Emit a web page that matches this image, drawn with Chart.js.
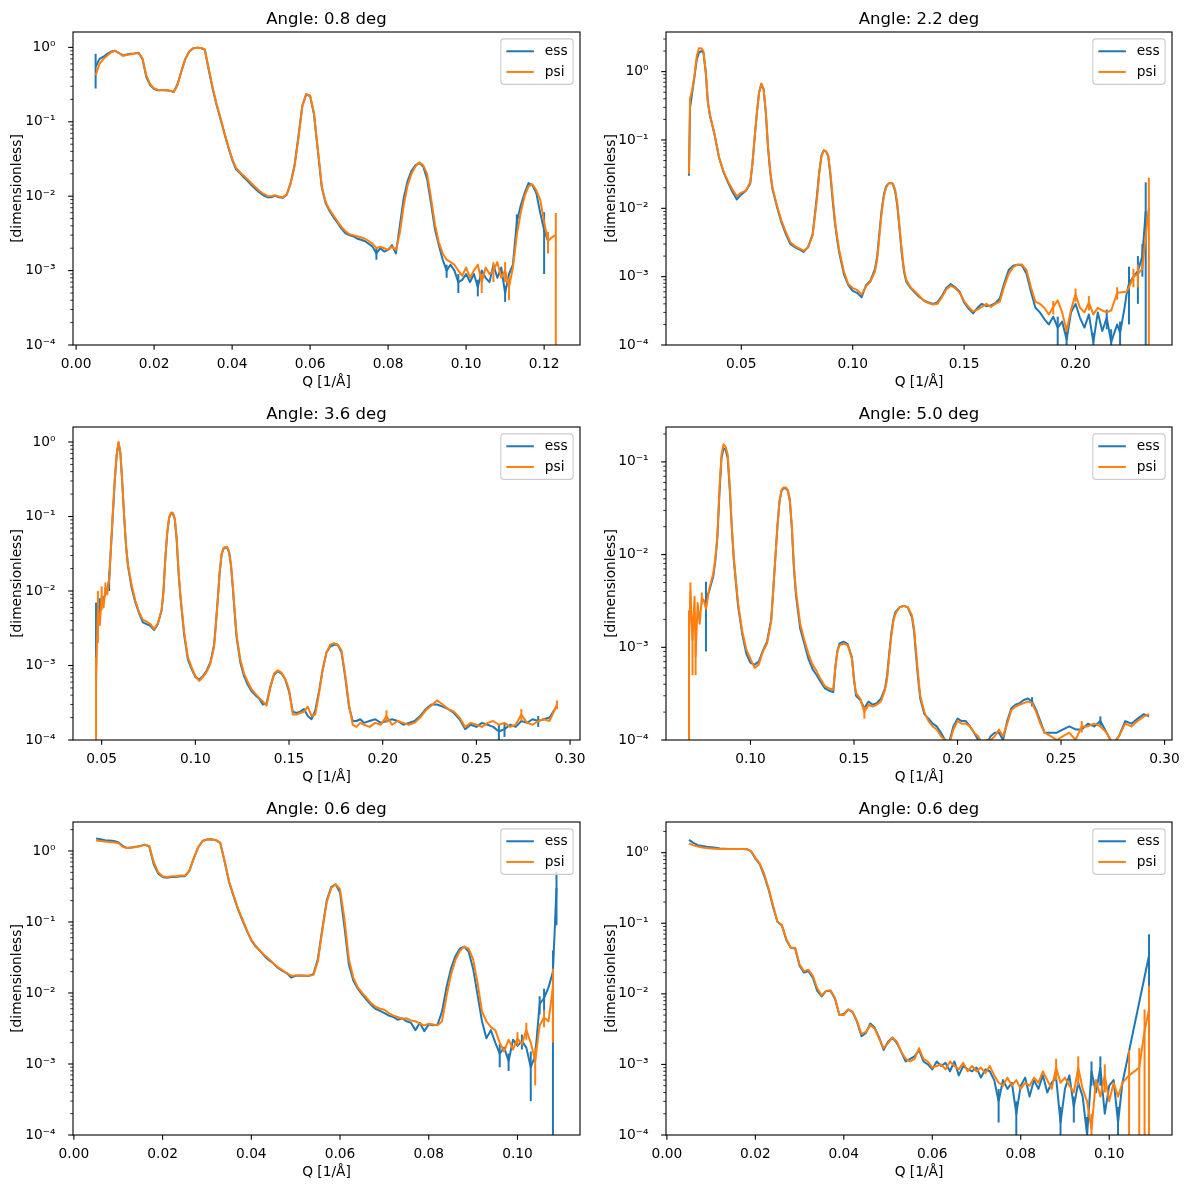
<!DOCTYPE html>
<html>
<head>
<meta charset="utf-8">
<script src="https://cdn.jsdelivr.net/npm/chart.js@4.4.1/dist/chart.umd.min.js"></script>
<style>
  html, body { margin: 0; padding: 0; background: #fff; }
  #fig { position: relative; width: 1188px; height: 1189px; background: #fff; }
  #fig canvas { position: absolute; }
</style>
</head>
<body>
<div id="fig"></div>
<script>
// ---- series names and tick labels ----
const seriesNames = ['ess', 'psi'];
const titles = ['Angle: 0.8 deg', 'Angle: 2.2 deg', 'Angle: 3.6 deg', 'Angle: 5.0 deg', 'Angle: 0.6 deg', 'Angle: 0.6 deg'];
const yDecadeLabels = ['10\u207B\u2074', '10\u207B\u00B3', '10\u207B\u00B2', '10\u207B\u00B9', '10\u2070'];
const p1XTicks = [0.00, 0.02, 0.04, 0.06, 0.08, 0.10, 0.12];
const p2XTicks = [0.05, 0.10, 0.15, 0.20];
const p3XTicks = [0.05, 0.10, 0.15, 0.20, 0.25, 0.30];
const p4XTicks = [0.10, 0.15, 0.20, 0.25, 0.30];
const p5XTicks = [0.00, 0.02, 0.04, 0.06, 0.08, 0.10];
const p6XTicks = [0.00, 0.02, 0.04, 0.06, 0.08, 0.10];

// ---- panel 1: angle 0.8 deg ----
const p1Q = [
  0.005,0.006,0.007,0.008,0.009,0.010,0.011,0.012,0.013,0.014,
  0.015,0.016,0.017,0.018,0.019,0.020,0.021,0.022,0.023,0.024,
  0.025,0.026,0.027,0.028,0.029,0.030,0.031,0.032,0.033,0.034,
  0.035,0.036,0.037,0.038,0.039,0.040,0.041,0.042,0.043,0.044,
  0.045,0.046,0.047,0.048,0.049,0.050,0.051,0.052,0.053,0.054,
  0.055,0.056,0.057,0.058,0.059,0.060,0.061,0.062,0.063,0.064,
  0.065,0.066,0.067,0.068,0.069,0.070,0.071,0.072,0.073,0.074,
  0.075,0.076,0.077,0.078,0.079,0.080,0.081,0.082,0.083,0.084,
  0.085,0.086,0.087,0.088,0.089,0.090,0.091,0.092,0.093,0.094,
  0.095,0.096,0.097,0.098,0.099,0.100,0.101,0.102,0.103,0.104,
  0.105,0.106,0.107,0.108,0.109,0.110,0.111,0.112,0.113,0.114,
  0.115,0.116,0.117,0.118,0.119,0.120,0.121,0.122,0.123];
const p1Ess = [
  0.55,0.70,0.75,0.82,0.88,0.90,0.84,0.78,0.80,0.82,
  0.83,0.85,0.70,0.40,0.31,0.275,0.265,0.265,0.265,0.262,
  0.252,0.32,0.48,0.70,0.88,0.97,0.99,0.98,0.93,0.50,
  0.28,0.17,0.11,0.070,0.046,0.031,0.023,0.0205,0.0180,0.0160,
  0.0140,0.0125,0.0112,0.0103,0.0097,0.0097,0.0101,0.0097,0.0095,0.0105,
  0.0150,0.026,0.064,0.165,0.235,0.22,0.125,0.040,0.0130,0.0080,
  0.0063,0.0052,0.0044,0.0037,0.0032,0.0030,0.0029,0.0027,0.0026,0.0025,
  0.0023,0.0021,0.0017,0.0020,0.0018,0.0019,0.0022,0.0017,0.0040,0.0095,
  0.0160,0.022,0.026,0.028,0.025,0.017,0.0080,0.0036,0.0022,0.0014,
  0.0010,0.0012,0.0010,0.0007,0.00075,0.0009,0.0007,0.0009,0.0006,0.0010,
  0.0008,0.0007,0.0012,0.0008,0.0011,0.0005,0.0009,0.0012,0.0045,0.0075,
  0.0110,0.0150,0.0140,0.0110,0.0060,0.0035,0.0025,null,null];
const p1Psi = [
  0.42,0.60,0.70,0.78,0.86,0.90,0.84,0.77,0.79,0.81,
  0.83,0.84,0.72,0.42,0.32,0.28,0.27,0.268,0.265,0.262,
  0.250,0.31,0.48,0.70,0.88,0.97,0.99,0.98,0.94,0.52,
  0.29,0.175,0.115,0.072,0.047,0.032,0.024,0.021,0.0188,0.0168,
  0.0148,0.0132,0.0118,0.0108,0.0101,0.0100,0.0103,0.0099,0.0097,0.0106,
  0.0148,0.025,0.060,0.16,0.235,0.225,0.130,0.042,0.0135,0.0083,
  0.0066,0.0055,0.0046,0.0039,0.0034,0.0031,0.0030,0.0029,0.0028,0.0027,
  0.0025,0.0023,0.0020,0.0021,0.0020,0.0019,0.0021,0.0019,0.0032,0.0075,
  0.0140,0.020,0.025,0.0285,0.026,0.020,0.0095,0.0042,0.0024,0.0017,
  0.0014,0.0013,0.0012,0.0010,0.00085,0.0011,0.0008,0.0010,0.0012,0.0007,
  0.0011,0.0009,0.0010,0.0013,0.0008,0.0010,0.0006,0.0011,0.0030,0.0060,
  0.0100,0.0135,0.0145,0.0120,0.0090,0.0045,0.0025,0.0028,0.0030];
const p1EssErr = [[0.005,0.27],[0.077,0.0003],[0.095,0.0002],[0.098,0.0002],[0.103,0.00015],[0.110,0.00012],[0.113,0.0012],[0.120,0.0026]];
const p1PsiErr = [[0.104,0.0002],[0.107,0.0003],[0.110,0.0003],[0.111,0.0002],[0.121,0.0008],[0.123,0.00295]];

// ---- panel 2: angle 2.2 deg ----
const p2Q = [
  0.0265,0.027,0.028,0.029,0.030,0.031,0.032,0.033,0.034,0.035,
  0.036,0.038,0.040,0.042,0.044,0.046,0.048,0.050,0.052,0.054,
  0.055,0.056,0.057,0.058,0.059,0.060,0.061,0.062,0.063,0.064,
  0.066,0.068,0.070,0.072,0.074,0.076,0.078,0.080,0.082,0.083,
  0.084,0.085,0.086,0.087,0.088,0.089,0.090,0.091,0.092,0.093,
  0.094,0.096,0.098,0.100,0.102,0.104,0.106,0.108,0.110,0.111,
  0.112,0.113,0.114,0.115,0.116,0.117,0.118,0.119,0.120,0.121,
  0.122,0.123,0.124,0.126,0.128,0.130,0.132,0.134,0.136,0.138,
  0.140,0.142,0.144,0.146,0.148,0.150,0.152,0.154,0.156,0.158,
  0.160,0.162,0.164,0.166,0.168,0.170,0.172,0.174,0.176,0.178,
  0.180,0.182,0.184,0.186,0.188,0.190,0.192,0.194,0.196,0.198,
  0.200,0.202,0.204,0.206,0.208,0.210,0.212,0.214,0.216,0.2187,
  0.220,0.222,0.2229,0.224,0.226,0.228,0.230,0.2315,0.2329];
const p2Ess = [
  0.030,0.30,0.50,0.85,1.5,1.9,2.0,1.9,1.0,0.35,
  0.22,0.12,0.055,0.034,0.024,0.0175,0.0135,0.016,0.018,0.023,
  0.045,0.11,0.25,0.50,0.66,0.55,0.25,0.075,0.033,0.019,
  0.0105,0.0062,0.0042,0.0030,0.0027,0.0025,0.0023,0.0027,0.0042,0.0080,
  0.016,0.035,0.060,0.070,0.068,0.058,0.030,0.013,0.0062,0.0035,
  0.0022,0.0011,0.00075,0.00062,0.00058,0.00050,0.00075,0.00088,0.0013,0.0020,
  0.0045,0.0095,0.016,0.021,0.023,0.0235,0.023,0.018,0.011,0.0050,
  0.0022,0.0012,0.00085,0.00068,0.00058,0.00050,0.00045,0.00042,0.00040,0.00042,
  0.00052,0.00068,0.00078,0.00070,0.00060,0.00042,0.00034,0.00029,0.00035,0.00040,
  0.00037,0.00038,0.00041,0.00048,0.00080,0.00125,0.00145,0.00150,0.00145,0.0011,
  0.00060,0.00035,0.00030,0.00024,0.00020,0.00026,0.00018,0.00022,0.00012,0.00030,
  0.00040,0.00025,0.00018,0.00028,0.00011,0.00030,0.00016,0.00025,0.00011,0.00020,
  0.00015,0.00035,0.00055,0.0008,0.0010,0.0012,0.0020,0.0090,null];
const p2Psi = [
  0.032,0.40,0.55,0.90,1.7,2.2,2.2,2.0,1.05,0.36,
  0.23,0.12,0.056,0.035,0.025,0.019,0.015,0.017,0.018,0.024,
  0.045,0.11,0.25,0.50,0.67,0.56,0.26,0.08,0.035,0.020,
  0.011,0.0066,0.0045,0.0032,0.0028,0.0026,0.0024,0.0027,0.0040,0.0075,
  0.014,0.033,0.058,0.070,0.069,0.060,0.033,0.015,0.0068,0.0038,
  0.0024,0.0012,0.00078,0.00068,0.00064,0.00055,0.00072,0.00085,0.0012,0.0018,
  0.0040,0.0088,0.015,0.020,0.023,0.0235,0.023,0.019,0.012,0.0055,
  0.0025,0.0013,0.00090,0.00070,0.00060,0.00052,0.00044,0.00041,0.00039,0.00040,
  0.00050,0.00065,0.00074,0.00068,0.00058,0.00044,0.00036,0.00031,0.00033,0.00036,
  0.00040,0.00036,0.00040,0.00043,0.00072,0.0011,0.00138,0.00150,0.00150,0.00125,
  0.00070,0.00043,0.00040,0.00035,0.00028,0.00036,0.00045,0.00030,0.00016,0.00033,
  0.00055,0.00035,0.00030,0.00042,0.00028,0.00035,0.00032,0.00030,0.00032,0.00058,
  null,null,0.00060,0.00070,0.0010,0.0011,0.0013,0.0040,0.0100];
const p2EssErr = [[0.192,0.00008],[0.196,0.00005],[0.208,0.00004],[0.214,0.00008],[0.216,0.00006],[0.220,0.00007],[0.224,0.0006],[0.228,0.0008],[0.230,0.0010],[0.2315,0.015]];
const p2PsiErr = [[0.190,0.00008],[0.200,0.00012],[0.206,0.0001],[0.2187,0.00012],[0.226,0.0003],[0.228,0.0004],[0.2329,0.018]];

// ---- panel 3: angle 3.6 deg ----
const p3Q = [
  0.047,0.048,0.049,0.050,0.051,0.052,0.053,0.054,0.055,0.056,
  0.057,0.058,0.059,0.060,0.061,0.062,0.063,0.064,0.066,0.068,
  0.070,0.072,0.074,0.076,0.078,0.080,0.082,0.083,0.084,0.085,
  0.086,0.087,0.088,0.089,0.090,0.091,0.092,0.094,0.096,0.098,
  0.100,0.102,0.104,0.106,0.108,0.110,0.111,0.112,0.113,0.114,
  0.115,0.116,0.117,0.118,0.119,0.120,0.121,0.122,0.124,0.126,
  0.128,0.130,0.132,0.134,0.136,0.138,0.140,0.142,0.144,0.146,
  0.148,0.150,0.152,0.154,0.156,0.158,0.160,0.162,0.164,0.166,
  0.168,0.170,0.172,0.174,0.176,0.178,0.180,0.182,0.184,0.186,
  0.188,0.190,0.193,0.196,0.199,0.202,0.205,0.208,0.211,0.214,
  0.217,0.220,0.223,0.226,0.229,0.232,0.235,0.238,0.241,0.244,
  0.247,0.250,0.253,0.256,0.259,0.262,0.265,0.268,0.271,0.274,
  0.277,0.280,0.283,0.286,0.289,0.291,0.293];
const p3Ess = [
  0.004,0.005,0.006,0.007,0.008,0.009,0.011,0.014,0.040,0.11,
  0.30,0.65,0.98,0.70,0.28,0.10,0.040,0.022,0.011,0.0070,
  0.0050,0.0038,0.0036,0.0034,0.0030,0.0036,0.0055,0.010,0.028,0.060,
  0.095,0.110,0.110,0.092,0.050,0.018,0.0085,0.0026,0.0012,0.00090,
  0.00070,0.00065,0.00072,0.00085,0.00110,0.0019,0.0038,0.0080,0.018,0.031,
  0.037,0.038,0.038,0.033,0.022,0.011,0.0050,0.0024,0.0011,0.00072,
  0.00055,0.00045,0.00040,0.00036,0.00030,0.00031,0.00052,0.00075,0.00084,0.00078,
  0.00065,0.00045,0.00024,0.00023,0.00024,0.00026,0.00021,0.00019,0.00025,0.00045,
  0.00090,0.0015,0.0018,0.0019,0.0019,0.0015,0.00070,0.00028,0.00018,0.00018,
  0.00019,0.00017,0.00018,0.00019,0.00017,0.00018,0.00019,0.00018,0.00016,0.00017,
  0.00018,0.00021,0.00026,0.00030,0.00030,0.00028,0.00026,0.00023,0.00019,0.00014,
  0.00016,0.00015,0.00017,0.00016,0.00015,0.00013,0.00014,0.00016,0.00015,0.00018,
  0.00017,0.00019,0.00018,0.00019,0.00020,0.00024,0.00028];
const p3Psi = [
  0.0006,0.0060,0.0035,0.0085,0.0060,0.0110,0.0090,0.0150,0.040,0.12,
  0.32,0.68,1.0,0.72,0.29,0.10,0.041,0.023,0.012,0.0074,
  0.0052,0.0041,0.0039,0.0036,0.0031,0.0037,0.0056,0.010,0.028,0.062,
  0.098,0.113,0.112,0.095,0.053,0.019,0.0090,0.0028,0.0013,0.00095,
  0.00072,0.00062,0.00070,0.00082,0.00105,0.0018,0.0036,0.0078,0.018,0.031,
  0.038,0.039,0.039,0.034,0.023,0.012,0.0053,0.0026,0.0012,0.00078,
  0.00060,0.00048,0.00042,0.00037,0.00033,0.00029,0.00050,0.00078,0.00086,0.00080,
  0.00066,0.00048,0.00022,0.00022,0.00023,0.00024,0.00028,0.00021,0.00022,0.00042,
  0.00088,0.0015,0.0019,0.0020,0.0019,0.0016,0.00075,0.00030,0.00016,0.00015,
  0.00017,0.00016,0.00015,0.00017,0.00016,0.00021,0.00016,0.00018,0.00017,0.00016,
  0.00017,0.00020,0.00025,0.00029,0.00034,0.00030,0.00026,0.00024,0.00020,0.00015,
  0.00017,0.00016,0.00015,0.00017,0.00018,0.00016,0.00017,0.00015,0.00016,0.00022,
  0.00017,0.00016,0.00018,0.00019,0.00018,0.00023,0.00030];
const p3EssErr = [[0.047,0.003],[0.049,0.002],[0.054,0.004],[0.262,0.00003],[0.265,0.00003],[0.283,0.00003]];
const p3PsiErr = [[0.047,0.0007],[0.048,0.004],[0.050,0.003],[0.052,0.002],[0.202,0.00004],[0.274,0.00004],[0.293,0.00004]];

// ---- panel 4: angle 5.0 deg ----
const p4Q = [
  0.0703,0.071,0.072,0.073,0.0735,0.0745,0.0755,0.0765,0.0775,0.0785,
  0.079,0.080,0.082,0.083,0.084,0.085,0.086,0.087,0.088,0.089,
  0.090,0.091,0.092,0.094,0.096,0.098,0.100,0.102,0.104,0.106,
  0.108,0.110,0.111,0.112,0.113,0.114,0.115,0.116,0.117,0.118,
  0.119,0.120,0.121,0.122,0.124,0.126,0.128,0.130,0.132,0.134,
  0.136,0.138,0.140,0.141,0.142,0.143,0.145,0.147,0.149,0.150,
  0.151,0.153,0.155,0.157,0.159,0.161,0.163,0.165,0.166,0.167,
  0.168,0.169,0.170,0.172,0.174,0.176,0.178,0.179,0.180,0.181,
  0.182,0.184,0.186,0.188,0.190,0.192,0.194,0.196,0.198,0.200,
  0.202,0.204,0.206,0.208,0.210,0.212,0.214,0.216,0.218,0.220,
  0.222,0.224,0.226,0.228,0.230,0.232,0.234,0.236,0.238,0.240,
  0.242,0.245,0.248,0.251,0.254,0.257,0.260,0.263,0.266,0.269,
  0.272,0.275,0.278,0.281,0.284,0.287,0.290,0.2925];
const p4Ess = [
  null,null,null,null,null,null,null,null,null,0.0030,
  0.0035,0.0040,0.0058,0.0085,0.015,0.045,0.11,0.14,0.135,0.11,
  0.050,0.019,0.0085,0.0028,0.0014,0.00085,0.00068,0.00065,0.00070,0.00092,
  0.00115,0.0020,0.0042,0.0092,0.020,0.037,0.049,0.052,0.052,0.049,
  0.038,0.019,0.0070,0.0036,0.0016,0.0011,0.00075,0.00058,0.00050,0.00042,
  0.00036,0.00034,0.00033,0.00062,0.00092,0.00110,0.00115,0.00108,0.00078,0.00045,
  0.00030,0.00027,0.00022,0.00026,0.00024,0.00025,0.00028,0.00036,0.00050,0.00085,
  0.0014,0.0020,0.0024,0.0027,0.0028,0.0027,0.0021,0.0015,0.0008,0.00045,
  0.00028,0.00019,0.00017,0.00015,0.00014,0.00012,0.00010,0.000095,0.00014,0.00017,
  0.00016,0.00016,0.00014,0.00012,0.00010,0.00009,0.00009,0.00011,0.00012,0.00012,
  0.00010,0.00016,0.00022,0.00024,0.00025,0.00027,0.00028,0.00026,0.00021,0.00016,
  0.00012,0.00012,0.00012,0.00013,0.00014,0.00013,0.00013,0.00015,0.00014,0.00016,
  0.00012,0.00009,0.00011,0.00016,0.00015,0.00017,0.00019,0.00018];
const p4Psi = [
  0.0012,0.0040,0.0012,0.0035,0.0008,0.0030,0.0018,0.0034,0.0032,0.0026,
  0.0030,0.0042,0.0062,0.0090,0.016,0.050,0.12,0.155,0.145,0.12,
  0.055,0.020,0.0090,0.0030,0.0015,0.00095,0.00075,0.00060,0.00065,0.00090,
  0.0011,0.0019,0.0040,0.0090,0.020,0.038,0.050,0.053,0.053,0.050,
  0.040,0.020,0.0075,0.0040,0.0018,0.0012,0.00085,0.00065,0.00055,0.00045,
  0.00038,0.00036,0.00035,0.00060,0.00090,0.00105,0.00110,0.00105,0.00075,0.00045,
  0.00032,0.00028,0.00020,0.00024,0.00023,0.00024,0.00026,0.00035,0.00045,0.00080,
  0.0013,0.0019,0.0023,0.0027,0.0028,0.0027,0.0022,0.0016,0.0009,0.00050,
  0.00030,0.00020,0.00016,0.00014,0.00013,0.00011,0.00010,0.00009,0.00013,0.00016,
  0.00015,0.00015,0.00014,0.00012,0.00011,0.00009,0.00010,0.00010,0.00011,0.00013,
  0.00011,0.00015,0.00021,0.00023,0.00024,0.00025,0.00026,0.00025,0.00020,0.00015,
  0.00012,0.00011,0.00010,0.00011,0.00012,0.00010,0.00014,0.00014,0.00015,0.00014,
  0.00012,0.00009,0.00011,0.00015,0.00014,0.00016,0.00018,0.00019];
const p4EssErr = [[0.0785,0.0021],[0.236,0.00003],[0.269,0.00002]];
const p4PsiErr = [[0.0703,0.0013],[0.071,0.001],[0.072,0.0007],[0.0735,0.0003],[0.0765,0.0005],[0.155,0.00003],[0.260,0.00002]];

// ---- panel 5: angle 0.6 deg ----
const p5Q = [
  0.005,0.006,0.007,0.008,0.009,0.010,0.011,0.012,0.013,0.014,
  0.015,0.016,0.017,0.018,0.019,0.020,0.021,0.022,0.023,0.024,
  0.025,0.026,0.027,0.028,0.029,0.030,0.031,0.032,0.033,0.034,
  0.035,0.036,0.037,0.038,0.039,0.040,0.041,0.042,0.043,0.044,
  0.045,0.046,0.047,0.048,0.049,0.050,0.051,0.052,0.053,0.054,
  0.055,0.056,0.057,0.058,0.059,0.060,0.061,0.062,0.063,0.064,
  0.065,0.066,0.067,0.068,0.069,0.070,0.071,0.072,0.073,0.074,
  0.075,0.076,0.077,0.078,0.079,0.080,0.081,0.082,0.083,0.084,
  0.085,0.086,0.087,0.088,0.089,0.090,0.091,0.092,0.093,0.094,
  0.095,0.096,0.097,0.098,0.099,0.100,0.101,0.102,0.103,0.104,
  0.105,0.106,0.107,0.108,0.1088];
const p5Ess = [
  1.50,1.46,1.42,1.40,1.38,1.33,1.18,1.10,1.12,1.15,
  1.18,1.23,1.15,0.65,0.48,0.43,0.42,0.43,0.43,0.44,
  0.44,0.52,0.78,1.12,1.38,1.45,1.46,1.42,1.30,0.70,
  0.36,0.23,0.15,0.105,0.075,0.055,0.045,0.039,0.033,0.029,
  0.026,0.0225,0.0205,0.0190,0.0165,0.0175,0.0176,0.0175,0.0174,0.0185,
  0.030,0.080,0.20,0.31,0.34,0.26,0.085,0.025,0.0150,0.0115,
  0.0095,0.0080,0.0068,0.0060,0.0056,0.0052,0.0048,0.0046,0.0042,0.0044,
  0.0040,0.0038,0.0030,0.0038,0.0029,0.0036,0.0035,0.0036,0.0055,0.012,
  0.022,0.033,0.042,0.045,0.038,0.022,0.0095,0.0040,0.0023,0.0030,
  0.0020,0.0014,0.0017,0.0011,0.0022,0.0018,0.0021,0.0017,0.0009,0.0013,
  0.0070,0.0085,0.012,0.020,0.30];
const p5Psi = [
  1.40,1.38,1.36,1.34,1.32,1.30,1.15,1.10,1.12,1.14,
  1.17,1.22,1.18,0.70,0.50,0.44,0.43,0.44,0.44,0.45,
  0.45,0.52,0.78,1.12,1.38,1.45,1.46,1.42,1.30,0.72,
  0.37,0.24,0.155,0.11,0.077,0.056,0.046,0.039,0.034,0.030,
  0.026,0.023,0.021,0.0190,0.0175,0.0176,0.0177,0.0176,0.0175,0.0180,
  0.028,0.075,0.19,0.30,0.34,0.29,0.11,0.030,0.0165,0.0120,
  0.0100,0.0085,0.0072,0.0064,0.0060,0.0058,0.0052,0.0048,0.0046,0.0043,
  0.0044,0.0041,0.0040,0.0037,0.0035,0.0037,0.0036,0.0035,0.0040,0.0090,
  0.018,0.029,0.039,0.045,0.042,0.030,0.014,0.0055,0.0040,0.0033,
  0.0030,0.0020,0.0015,0.0022,0.0016,0.0023,0.0019,0.0030,0.0020,0.0011,
  0.0035,0.0045,0.0040,0.012,null];
const p5EssErr = [[0.096,0.0005],[0.098,0.0003],[0.101,0.0005],[0.103,0.0006],[0.105,0.002],[0.106,0.003],[0.108,0.0199],[0.1088,0.21]];
const p5PsiErr = [[0.100,0.0005],[0.102,0.0008],[0.104,0.0006],[0.106,0.0012],[0.108,0.010]];

// ---- panel 6: angle 0.6 deg ----
const p6Q = [
  0.005,0.006,0.007,0.008,0.009,0.010,0.011,0.012,0.013,0.014,
  0.015,0.016,0.017,0.018,0.019,0.020,0.021,0.022,0.023,0.024,
  0.025,0.026,0.027,0.028,0.029,0.030,0.031,0.032,0.033,0.034,
  0.035,0.036,0.037,0.038,0.039,0.040,0.041,0.042,0.043,0.044,
  0.045,0.046,0.047,0.048,0.049,0.050,0.051,0.052,0.053,0.054,
  0.055,0.056,0.057,0.058,0.059,0.060,0.061,0.062,0.063,0.064,
  0.065,0.066,0.067,0.068,0.069,0.070,0.071,0.072,0.073,0.074,
  0.075,0.076,0.077,0.078,0.079,0.080,0.081,0.082,0.083,0.084,
  0.085,0.086,0.087,0.088,0.089,0.090,0.091,0.092,0.093,0.094,
  0.095,0.096,0.097,0.098,0.099,0.100,0.101,0.102,0.103,
  0.1045,0.1068,0.108,0.109];
const p6Ess = [
  1.52,1.38,1.28,1.24,1.21,1.19,1.17,1.15,1.14,1.13,
  1.13,1.13,1.13,1.12,1.05,0.83,0.68,0.47,0.30,0.17,
  0.105,0.093,0.058,0.045,0.044,0.025,0.020,0.021,0.017,0.011,
  0.0092,0.011,0.011,0.0085,0.0050,0.0052,0.0060,0.0055,0.0040,0.0025,
  0.0028,0.0038,0.0033,0.0024,0.0016,0.0021,0.0024,0.0020,0.0015,0.0011,
  0.0012,0.0013,0.0016,0.0011,0.0010,0.00085,0.00110,0.00095,0.00105,0.00080,
  0.00110,0.00070,0.00095,0.00085,0.00080,0.00090,0.00065,0.00085,0.00080,0.00060,
  0.00030,0.00060,0.00045,0.00055,0.00020,0.00050,0.00065,0.00035,0.00060,0.00045,
  0.00070,0.00040,0.00055,0.00065,0.00015,0.00045,0.00070,0.00025,0.00055,0.00035,
  0.00010,0.00080,0.00040,0.00090,0.00020,0.00050,0.00060,0.00015,0.00055,
  null,null,null,0.035];
const p6Psi = [
  1.35,1.27,1.22,1.18,1.16,1.15,1.14,1.13,1.13,1.13,
  1.13,1.13,1.13,1.13,1.06,0.85,0.70,0.50,0.31,0.18,
  0.105,0.095,0.060,0.045,0.045,0.026,0.021,0.022,0.018,0.012,
  0.0095,0.011,0.0112,0.0088,0.0050,0.0050,0.0060,0.0056,0.0041,0.0027,
  0.0029,0.0036,0.0032,0.0023,0.0017,0.0020,0.0024,0.0021,0.0015,0.0012,
  0.0011,0.0012,0.0017,0.0012,0.0011,0.00090,0.00095,0.00100,0.00085,0.00110,
  0.00095,0.00085,0.00105,0.00080,0.00095,0.00080,0.00090,0.00075,0.00095,0.00070,
  0.00055,0.00050,0.00065,0.00050,0.00060,0.00045,0.00055,0.00050,0.00065,0.00055,
  0.00080,0.00060,0.00045,0.00090,0.00055,0.00065,0.00050,0.00040,0.00090,0.00045,
  0.00030,0.00012,0.00060,0.00035,0.00070,0.00030,0.00055,0.00035,0.00055,
  0.0007,0.0009,0.0030,0.006];
const p6EssErr = [[0.075,0.00015],[0.079,0.0001],[0.089,0.0001],[0.092,0.0001],[0.095,0.00008],[0.096,0.0003],[0.098,0.0004],[0.102,0.0001],[0.109,0.035]];
const p6PsiErr = [[0.088,0.0003],[0.093,0.0004],[0.096,0.00008],[0.099,0.0003],[0.1045,0.0009],[0.1068,0.0008],[0.108,0.003],[0.109,0.007]];

// ---- figure setup ----
const BLUE = '#1f77b4';
const ORANGE = '#ff7f0e';
const FAMILY = '"DejaVu Sans", sans-serif';
const FS = 13.75;  // 10pt at 99 dpi

Chart.defaults.font.family = FAMILY;
Chart.defaults.color = '#000';

const panels = [
  { q: p1Q, ess: p1Ess, psi: p1Psi, essErr: p1EssErr, psiErr: p1PsiErr, xTicks: p1XTicks, xMin: -0.0008, xMax: 0.1292, yMax: 1.61 },
  { q: p2Q, ess: p2Ess, psi: p2Psi, essErr: p2EssErr, psiErr: p2PsiErr, xTicks: p2XTicks, xMin: 0.0162, xMax: 0.2433, yMax: 3.8 },
  { q: p3Q, ess: p3Ess, psi: p3Psi, essErr: p3EssErr, psiErr: p3PsiErr, xTicks: p3XTicks, xMin: 0.0347, xMax: 0.3053, yMax: 1.59 },
  { q: p4Q, ess: p4Ess, psi: p4Psi, essErr: p4EssErr, psiErr: p4PsiErr, xTicks: p4XTicks, xMin: 0.0592, xMax: 0.3036, yMax: 0.238 },
  { q: p5Q, ess: p5Ess, psi: p5Psi, essErr: p5EssErr, psiErr: p5PsiErr, xTicks: p5XTicks, xMin: -0.0002, xMax: 0.1141, yMax: 2.56 },
  { q: p6Q, ess: p6Ess, psi: p6Psi, essErr: p6EssErr, psiErr: p6PsiErr, xTicks: p6XTicks, xMin: -0.0002, xMax: 0.1142, yMax: 2.72 }
];

function pts(q, v) {
  if (q.length !== v.length) throw new Error('length mismatch ' + q.length + ' vs ' + v.length);
  return q.map((x, i) => ({ x: x, y: v[i] }));
}

// all 1..9 x 10^n values between 1e-4 and the top of the axis
function logTicks(max) {
  const out = [];
  for (let e = -4; e <= 1; e++) {
    for (let k = 1; k <= 9; k++) {
      const v = k * Math.pow(10, e);
      if (v <= max * 1.000001) out.push(v);
    }
  }
  return out;
}

function decadeLabel(v) {
  const e = Math.log10(v);
  const r = Math.round(e);
  if (Math.abs(e - r) < 1e-6 && r >= -4 && r <= 0) return yDecadeLabels[r + 4];
  return '';
}

// error bars, spines, tick marks, title and legend in matplotlib style
const decor = {
  id: 'decor',
  afterDatasetDraw(chart, args) {
    const ds = chart.data.datasets[args.index];
    const errs = ds.errors || [];
    const { ctx, chartArea: a } = chart;
    const xs = chart.scales.x, ys = chart.scales.y;
    ctx.save();
    ctx.beginPath();
    ctx.rect(a.left, a.top, a.right - a.left, a.bottom - a.top);
    ctx.clip();
    ctx.strokeStyle = ds.borderColor;
    ctx.lineWidth = 2;
    for (const [q, s] of errs) {
      const pt = ds.data.find(p => Math.abs(p.x - q) < 1e-7);
      if (!pt || pt.y == null) continue;
      const px = xs.getPixelForValue(q);
      const top = ys.getPixelForValue(pt.y + s);
      const bot = pt.y - s > 0 ? ys.getPixelForValue(pt.y - s) : a.bottom + 2;
      ctx.beginPath();
      ctx.moveTo(px, top);
      ctx.lineTo(px, bot);
      ctx.stroke();
    }
    ctx.restore();
  },
  afterDatasetsDraw(chart, args, opts) {
    const { ctx, chartArea: a } = chart;
    const xs = chart.scales.x, ys = chart.scales.y;
    ctx.save();
    ctx.strokeStyle = '#000';
    ctx.lineWidth = 1.1;
    ctx.strokeRect(a.left, a.top, a.right - a.left, a.bottom - a.top);

    for (const t of xs.ticks) {
      const px = xs.getPixelForValue(t.value);
      ctx.beginPath();
      ctx.moveTo(px, a.bottom);
      ctx.lineTo(px, a.bottom + 4.8);
      ctx.stroke();
    }
    for (const t of ys.ticks) {
      const py = ys.getPixelForValue(t.value);
      const major = t.label !== '';
      ctx.lineWidth = major ? 1.1 : 0.8;
      ctx.beginPath();
      ctx.moveTo(a.left, py);
      ctx.lineTo(a.left - (major ? 4.8 : 2.75), py);
      ctx.stroke();
    }

    // title
    ctx.fillStyle = '#000';
    ctx.font = '16.5px ' + FAMILY;
    ctx.textAlign = 'center';
    ctx.textBaseline = 'alphabetic';
    ctx.fillText(opts.title, (a.left + a.right) / 2, a.top - 8.25);

    // legend, upper right
    ctx.font = FS + 'px ' + FAMILY;
    const items = seriesNames.map(n => chart.data.datasets.find(d => d.label === n));
    const tw = Math.max(...items.map(d => ctx.measureText(d.label).width));
    const pad = 0.4 * FS, hl = 2 * FS, gap = 0.8 * FS, rowH = 13.8, sp = 0.5 * FS;
    const w = pad + hl + gap + tw + pad;
    const h = 2 * pad + items.length * rowH + (items.length - 1) * sp;
    const x0 = a.right - 0.5 * FS - w;
    const y0 = a.top + 0.5 * FS;
    ctx.beginPath();
    ctx.roundRect(x0, y0, w, h, 3);
    ctx.fillStyle = 'rgba(255,255,255,0.8)';
    ctx.fill();
    ctx.strokeStyle = '#cccccc';
    ctx.lineWidth = 1.1;
    ctx.stroke();
    ctx.textAlign = 'left';
    ctx.textBaseline = 'middle';
    items.forEach((d, i) => {
      const cy = y0 + pad + rowH / 2 + i * (rowH + sp);
      ctx.strokeStyle = d.borderColor;
      ctx.lineWidth = 2;
      ctx.beginPath();
      ctx.moveTo(x0 + pad, cy);
      ctx.lineTo(x0 + pad + hl, cy);
      ctx.stroke();
      ctx.fillStyle = '#000';
      ctx.fillText(d.label, x0 + pad + hl + gap, cy);
    });
    ctx.restore();
  }
};

const fig = document.getElementById('fig');

panels.forEach((p, i) => {
  const col = i % 2, row = Math.floor(i / 2);
  const canvas = document.createElement('canvas');
  canvas.width = 594;
  canvas.height = 395;
  canvas.style.left = (col * 594) + 'px';
  canvas.style.top = (row * 395) + 'px';
  canvas.style.width = '594px';
  canvas.style.height = '395px';
  fig.appendChild(canvas);

  const yWidth = col === 0 ? 73 : 72;
  const padRight = col === 0 ? 14 : 16;

  const common = { borderWidth: 2, pointRadius: 0, tension: 0, spanGaps: true, fill: false, borderJoinStyle: 'round' };

  new Chart(canvas.getContext('2d'), {
    type: 'line',
    data: {
      datasets: [
        Object.assign({ label: 'ess', data: pts(p.q, p.ess), borderColor: BLUE, backgroundColor: BLUE, errors: p.essErr, order: 1 }, common),
        Object.assign({ label: 'psi', data: pts(p.q, p.psi), borderColor: ORANGE, backgroundColor: ORANGE, errors: p.psiErr, order: 0 }, common)
      ]
    },
    options: {
      responsive: false,
      animation: false,
      devicePixelRatio: 1,
      events: [],
      layout: { padding: { top: 32, right: padRight, bottom: 0, left: 0 } },
      plugins: {
        legend: { display: false },
        tooltip: { enabled: false },
        decor: { title: titles[i] }
      },
      scales: {
        x: {
          type: 'linear',
          min: p.xMin,
          max: p.xMax,
          afterBuildTicks: s => { s.ticks = p.xTicks.map(v => ({ value: v })); },
          afterFit: s => { s.height = 50; },
          grid: { display: false },
          border: { display: false },
          ticks: { autoSkip: false, maxRotation: 0, padding: 3, font: { size: FS }, callback: v => Number(v).toFixed(2) },
          title: { display: true, text: 'Q [1/Å]', font: { size: FS }, padding: { top: 0, bottom: 4 } }
        },
        y: {
          type: 'logarithmic',
          min: 1e-4,
          max: p.yMax,
          afterBuildTicks: s => { s.ticks = logTicks(p.yMax).map(v => ({ value: v })); },
          afterFit: s => { s.width = yWidth; },
          grid: { display: false },
          border: { display: false },
          ticks: { autoSkip: false, padding: 9.6, font: { size: FS }, callback: v => decadeLabel(v) },
          title: { display: true, text: '[dimensionless]', font: { size: FS }, padding: { top: 9, bottom: 0 } }
        }
      }
    },
    plugins: [decor]
  });
});
</script>
</body>
</html>
